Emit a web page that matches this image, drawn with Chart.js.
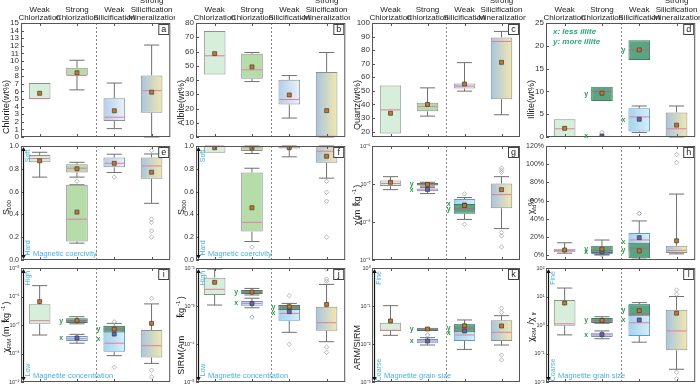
<!DOCTYPE html>
<html>
<head>
<meta charset="utf-8">
<script src="https://cdn.jsdelivr.net/npm/chart.js@4.4.0/dist/chart.umd.min.js"></script>
<style>
  body { margin: 0; background: #fff; }
  #wrap { position: relative; width: 700px; height: 387px; overflow: hidden; background: #fff; }
  canvas { position: absolute; }
</style>
</head>
<body>
<div id="wrap"></div>
<script>
const categories = [['Weak', 'Chlorization'], ['Strong', 'Chlorization'], ['Weak', 'Silicification'], ['Strong', 'Silicification', '-Mineralization']];

// box rows: [category, group, whiskerLow, q1, median, q3, whiskerHigh, mean]
// group '' = whole sample, 'x' = less illite, 'y' = more illite
const chloriteBoxes = [
  [0, '', null, 5.0, 5.05, 7.1, null, 5.75],
  [1, '', 6.2, 8.1, 8.1, 9.1, 10.1, 8.45],
  [2, '', 1.1, 2.1, 2.6, 5.1, 7.1, 3.45],
  [3, '', 0, 3.2, 6.1, 8.1, 12.1, 5.9]
];
const albiteBoxes = [
  [0, '', null, 43.8, 57.0, 74.4, null, 58.5],
  [1, '', 38.9, 40.8, 47.1, 58.4, 59.3, 49.2],
  [2, '', 13.3, 22.8, 26.3, 40.1, 43.1, 29.5],
  [3, '', 0, 0, 0.5, 45.7, 59.3, 18.5]
];
const quartzBoxes = [
  [0, '', null, 18.5, 36.0, 54.0, null, 33.5],
  [1, '', 31.4, 34.9, 38.5, 41.3, 52.2, 40.0],
  [2, '', 49.8, 51.7, 53.5, 55.4, 70.8, 55.0],
  [3, '', 32.4, 43.8, 86.4, 89.4, 93.8, 71.0]
];
const illiteBoxes = [
  [0, '', null, 0, 1.8, 3.9, null, 1.9],
  [1, 'y', null, 7.9, 10.0, 11.0, null, 9.6],
  [1, 'x', null, 0, 0.1, 0.3, null, 0.2],
  [2, 'x', 1.0, 1.2, 4.4, 6.3, 6.8, 3.9],
  [2, 'y', null, 16.9, 19.1, 21.2, null, 19.1],
  [3, '', 0, 0, 1.8, 5.4, 6.8, 2.6]
];
const illiteOutliers = [[1, 'x', 1.0]];

const s100Boxes = [
  [0, '', 0.727, 0.857, 0.89, 0.92, 0.945, 0.87],
  [1, '', 0.727, 0.767, 0.805, 0.84, 0.857, 0.80],
  [1, '', 0.148, 0.162, 0.358, 0.66, 0.66, 0.42],
  [2, '', 0.767, 0.813, 0.848, 0.90, 0.928, 0.848],
  [3, '', 0.497, 0.712, 0.825, 0.90, 0.93, 0.77]
];
const s100Outliers = [[1, '', 0.69], [2, '', 0.727], [3, '', 0.96], [3, '', 0.358], [3, '', 0.33], [3, '', 0.255], [3, '', 0.20]];

const s300Boxes = [
  [0, '', null, 0.94, 1.0, 1.0, null, 0.985],
  [1, '', 0.934, 0.957, 0.99, 0.997, 1.0, 0.982],
  [1, '', 0.162, 0.249, 0.33, 0.767, 0.805, 0.458],
  [2, '', 0.905, 0.977, 0.99, 1.0, 1.0, 0.985],
  [3, '', 0.718, 0.853, 0.954, 0.99, 1.0, 0.91]
];
const s300Outliers = [[1, '', 0.113], [3, '', 0.69], [3, '', 0.594], [3, '', 0.516], [3, '', 0.20]];

const chiLfBoxes = [
  [0, '', 7.1e-8, 8.8e-8, 1.03e-7, 1.23e-7, 1.56e-7, 1.11e-7],
  [1, 'x', 5.6e-8, 6.4e-8, 6.9e-8, 7.6e-8, 8.0e-8, 7.2e-8],
  [1, 'y', 8.8e-8, 9.1e-8, 9.9e-8, 1.07e-7, 1.11e-7, 9.7e-8],
  [2, 'x', null, 2.08e-8, 2.7e-8, 4.0e-8, 4.4e-8, 2.8e-8],
  [2, 'y', 1.17e-8, 1.64e-8, 2.2e-8, 2.97e-8, null, 2.7e-8],
  [3, '', 6.7e-9, 2.29e-8, 5.26e-8, 1.03e-7, 1.56e-7, 7.1e-8]
];
const chiLfOutliers = [[2, '', 5.5e-8], [2, '', 8.7e-9], [3, '', 2.6e-7], [3, '', 2.28e-7], [3, '', 2.02e-7], [3, '', 5.3e-9], [3, '', 4.3e-9], [3, '', 2.2e-9]];

const chiFdBoxes = [
  [0, '', 2.5, 3.6, 5.5, 7.4, 13.9, 6.0],
  [1, 'x', 0.5, 1.5, 3.5, 6.0, 7.0, 4.0],
  [1, 'y', 1.0, 2.8, 5.5, 10.5, 16.9, 7.0],
  [2, 'x', 0, 5.0, 17.0, 24.5, 37.8, 19.5],
  [2, 'y', -4, -3, 8.0, 14.0, null, 5.0],
  [3, '', 1.7, 2.8, 5.5, 10.5, 67.3, 16.0]
];
const chiFdOutliers = [[1, 'x', 0.5], [2, 'x', 46], [3, '', 110.6], [3, '', 101.8]];

const chiArmBoxes = [
  [0, '', 4.45e-8, 1.11e-7, 1.42e-7, 5.3e-7, 2.4e-6, 6.6e-7],
  [1, 'x', 2.3e-8, 2.75e-8, 3.3e-8, 4.1e-8, 4.7e-8, 3.5e-8],
  [1, 'y', 1.1e-7, 1.17e-7, 1.42e-7, 1.71e-7, 1.95e-7, 1.42e-7],
  [2, 'x', 8.4e-9, 1.16e-8, 2.3e-8, 9.5e-8, null, 4.8e-8],
  [2, 'y', null, 5.5e-8, 7.2e-8, 9.5e-8, 1.14e-7, 7.2e-8],
  [3, '', 4.5e-9, 7.3e-9, 1.88e-8, 6.7e-8, 5.5e-7, 1.14e-7]
];
const chiArmOutliers = [[2, '', 1.3e-7], [2, '', 3.3e-9], [3, '', 8.6e-7], [3, '', 2.6e-9], [3, '', 1.5e-9]];

const sirmBoxes = [
  [0, '', 1.06e-3, 1.95e-3, 2.75e-3, 5.57e-3, 9.4e-3, 4.2e-3],
  [1, 'x', 0.9e-3, 1.02e-3, 1.17e-3, 1.35e-3, 1.6e-3, 1.17e-3],
  [1, 'y', 1.95e-3, 2.07e-3, 2.33e-3, 2.63e-3, 2.9e-3, 2.33e-3],
  [2, 'x', 2.03e-4, 4.1e-4, 6.4e-4, 1.06e-3, null, 7.1e-4],
  [2, 'y', null, 7.85e-4, 9.2e-4, 1.06e-3, 1.17e-3, 9.6e-4],
  [3, '', 1.15e-4, 2.24e-4, 3.64e-4, 9.6e-4, 3.7e-3, 1.1e-3]
];
const sirmOutliers = [[1, 'x', 5.1e-4], [2, '', 1.87e-3], [2, '', 9.8e-5], [3, '', 9.4e-3], [3, '', 5.1e-3], [3, '', 4.5e-3], [3, '', 8.3e-5], [3, '', 6.0e-5]];

const armSirmBoxes = [
  [0, '', 0.0169, 0.022, 0.0229, 0.0364, 0.102, 0.0403],
  [1, 'x', 0.0094, 0.0104, 0.012, 0.0136, 0.0147, 0.012],
  [1, 'y', null, 0.022, 0.0248, 0.0269, null, 0.0248],
  [2, 'x', 0.0072, 0.012, 0.0173, 0.033, null, 0.022],
  [2, 'y', null, 0.0203, 0.026, 0.033, 0.0429, 0.0303],
  [3, '', 0.0094, 0.012, 0.0203, 0.042, 0.0557, 0.0298]
];
const armSirmOutliers = [[1, 'x', 0.0173], [3, '', 0.0869], [3, '', 0.068], [3, '', 0.0051], [3, '', 0.0038]];

const chiRatioBoxes = [
  [0, '', 0.45, 0.95, 1.1, 7.5, 19.8, 5.9],
  [1, 'x', 0.33, 0.38, 0.45, 0.54, 0.62, 0.46],
  [1, 'y', 1.15, 1.18, 1.45, 1.75, 1.95, 1.45],
  [2, 'x', 0.25, 0.41, 1.2, 5.3, null, 1.5],
  [2, 'y', null, 2.1, 2.4, 5.3, 6.1, 3.2],
  [3, '', 0.028, 0.13, 0.62, 3.4, 10, 2.6]
];
const chiRatioOutliers = [[3, '', 17], [3, '', 12], [3, '', 0.022], [3, '', 0.013]];

// tick values
const chloriteTicks = [0, 1, 2, 3, 4, 5, 6, 7, 8, 9, 10, 11, 12, 13, 14, 15];
const albiteTicks = [0, 10, 20, 30, 40, 50, 60, 70, 80];
const quartzTicks = [20, 30, 40, 50, 60, 70, 80, 90, 100];
const illiteTicks = [0, 5, 10, 15, 20, 25];
const sTicks = [0, 0.2, 0.4, 0.6, 0.8, 1.0];
const chiLfTicks = [1e-9, 1e-8, 1e-7, 1e-6];
const chiFdTicks = [0, 20, 40, 60, 80, 100, 120];
const chiArmTicks = [1e-9, 1e-8, 1e-7, 1e-6, 1e-5];
const sirmTicks = [1e-5, 1e-4, 1e-3, 1e-2];
const armSirmTicks = [1e-3, 1e-2, 1e-1, 1e0];
const chiRatioTicks = [1e-2, 1e-1, 1e0, 1e1, 1e2];

const FONT = '"Liberation Sans", Arial, sans-serif';
const PLOT_L = [21, 196, 372, 546];
const PLOT_R = [173, 347, 520, 697];
const PLOT_T = [23, 146, 268];
const PLOT_B = [137, 260, 382];
const CANVAS_T = [0, 138, 260];
const CANVAS_H = [145, 128, 127];
const Y_W = 21;
const BAR_PCT = 0.58;

const FILLS = {
  c0: ['#d7eedb'], c1: ['#b6dcaa'], c2: ['#b2cfea', '#ebf2f9'], c3: ['#a5c5e1', '#f5e7ad'],
  x: ['#a3d3ee', '#d9eef8'], y: ['#5aa683']
};
const EDGES = { '': '#8a928e', x: '#5d9ccc', y: '#467a62' };
const ORDER = { '': 40, x: 30, y: 20 };

const SIDE = {
  coercivity: ['Soft', 'Hard', 'Magnetic coercivity'],
  concentration: ['High', 'Low', 'Magnetite concentration'],
  grain: ['Fine', 'Coarse', 'Magnetite grain size']
};

const panels = [
  { id: 'a', col: 0, row: 0, title: 'Chlorite(wt%)', boxes: chloriteBoxes, outliers: [], ticks: chloriteTicks, min: 0, max: 15 },
  { id: 'b', col: 1, row: 0, title: 'Albite(wt%)', boxes: albiteBoxes, outliers: [], ticks: albiteTicks, min: 0, max: 80 },
  { id: 'c', col: 2, row: 0, title: 'Quartz(wt%)', boxes: quartzBoxes, outliers: [], ticks: quartzTicks, min: 16, max: 100 },
  { id: 'd', col: 3, row: 0, title: 'Illite(wt%)', boxes: illiteBoxes, outliers: illiteOutliers, ticks: illiteTicks, min: 0, max: 25, legend: true },
  { id: 'e', col: 0, row: 1, title: 'S_{-100}', boxes: s100Boxes, outliers: s100Outliers, ticks: sTicks, min: 0, max: 1, fmt: v => v.toFixed(1), side: SIDE.coercivity },
  { id: 'f', col: 1, row: 1, title: 'S_{-300}', boxes: s300Boxes, outliers: s300Outliers, ticks: sTicks, min: 0, max: 1, fmt: v => v.toFixed(1), side: SIDE.coercivity },
  { id: 'g', col: 2, row: 1, title: 'χ_{lf}(m^{3}kg^{-1})', boxes: chiLfBoxes, outliers: chiLfOutliers, ticks: chiLfTicks, min: 1e-9, max: 1e-6, log: true },
  { id: 'h', col: 3, row: 1, title: 'χ_{fd}%', boxes: chiFdBoxes, outliers: chiFdOutliers, ticks: chiFdTicks, min: -5, max: 120, fmt: v => v + '%' },
  { id: 'i', col: 0, row: 2, title: 'χ_{ARM}(m^{3}kg^{-1})', boxes: chiArmBoxes, outliers: chiArmOutliers, ticks: chiArmTicks, min: 1e-9, max: 1e-5, log: true, side: SIDE.concentration },
  { id: 'j', col: 1, row: 2, title: 'SIRM(Am^{2}kg^{-1})', boxes: sirmBoxes, outliers: sirmOutliers, ticks: sirmTicks, min: 1e-5, max: 1e-2, log: true, side: SIDE.concentration },
  { id: 'k', col: 2, row: 2, title: 'ARM/SIRM', boxes: armSirmBoxes, outliers: armSirmOutliers, ticks: armSirmTicks, min: 1e-3, max: 1, log: true, side: SIDE.grain },
  { id: 'l', col: 3, row: 2, title: 'χ_{ARM}/χ_{lf}', boxes: chiRatioBoxes, outliers: chiRatioOutliers, ticks: chiRatioTicks, min: 1e-2, max: 1e2, log: true, side: SIDE.grain }
];

function sup(n) {
  const m = { '-': '⁻', '0': '⁰', '1': '¹', '2': '²', '3': '³', '4': '⁴', '5': '⁵', '6': '⁶', '7': '⁷', '8': '⁸', '9': '⁹' };
  return String(n).split('').map(c => m[c]).join('');
}

// rotated axis title with sub/superscripts, markup: _{..} and ^{..}
function drawRich(ctx, markup, x, y, size, color) {
  const parts = [];
  const re = /([_^])\{([^}]*)\}|([^_^]+)/g;
  let m;
  while ((m = re.exec(markup))) {
    parts.push(m[3] !== undefined ? { t: m[3], k: 0 } : { t: m[2], k: m[1] === '_' ? 1 : 2 });
  }
  ctx.save();
  ctx.translate(x, y);
  ctx.rotate(-Math.PI / 2);
  ctx.fillStyle = color;
  ctx.textBaseline = 'alphabetic';
  const fontFor = k => (k ? size * 0.68 : size) + 'px ' + FONT;
  let total = 0;
  parts.forEach(p => { ctx.font = fontFor(p.k); p.w = ctx.measureText(p.t).width; total += p.w; });
  let cx = -total / 2;
  parts.forEach(p => {
    ctx.font = fontFor(p.k);
    const dy = p.k === 1 ? size * 0.22 : p.k === 2 ? -size * 0.36 : 0;
    ctx.fillText(p.t, cx, size * 0.35 + dy);
    cx += p.w;
  });
  ctx.restore();
}

function boxFill(chart, r) {
  const stops = FILLS[r[1] || 'c' + r[0]];
  if (stops.length === 1 || !chart.chartArea) return stops[0];
  const xs = chart.scales.x;
  const cx = xs.getPixelForValue(r[0]);
  const half = xs.width / categories.length * BAR_PCT / 2;
  const g = chart.ctx.createLinearGradient(cx - half, 0, cx + half, 0);
  g.addColorStop(0, stops[0]);
  g.addColorStop(1, stops[1]);
  return g;
}

const boxPlugin = {
  id: 'boxplot',
  beforeDatasetDraw(chart, args) {
    const r = chart.data.datasets[args.index].box;
    if (!r) return;
    const el = args.meta.data[r[0]];
    const y = chart.scales.y, ctx = chart.ctx;
    const cap = el.width * 0.35;
    ctx.save();
    ctx.strokeStyle = '#707070';
    ctx.lineWidth = 1;
    [[r[2], r[3]], [r[6], r[5]]].forEach(([w, edge]) => {
      if (w === null) return;
      const pw = y.getPixelForValue(w), pe = y.getPixelForValue(edge);
      ctx.beginPath();
      ctx.moveTo(el.x, pe); ctx.lineTo(el.x, pw);
      ctx.moveTo(el.x - cap, pw); ctx.lineTo(el.x + cap, pw);
      ctx.stroke();
    });
    ctx.restore();
  },
  afterDatasetDraw(chart, args) {
    const r = chart.data.datasets[args.index].box;
    if (!r) return;
    const el = args.meta.data[r[0]];
    const py = chart.scales.y.getPixelForValue(r[4]);
    const ctx = chart.ctx;
    ctx.save();
    ctx.strokeStyle = r[1] === 'y' ? '#c0607e' : '#e47da2';
    ctx.lineWidth = 1;
    ctx.beginPath();
    ctx.moveTo(el.x - el.width / 2 + 1, py);
    ctx.lineTo(el.x + el.width / 2 - 1, py);
    ctx.stroke();
    ctx.restore();
  },
  afterDraw(chart) {
    const p = chart.config.options.panel;
    const ctx = chart.ctx, a = chart.chartArea, xs = chart.scales.x, ys = chart.scales.y;
    ctx.save();
    // separator between chloritization and silicification groups
    const sx = (xs.getPixelForValue(1) + xs.getPixelForValue(2)) / 2;
    ctx.strokeStyle = '#8a8a8a';
    ctx.setLineDash([2, 2]);
    ctx.beginPath(); ctx.moveTo(Math.round(sx) + 0.5, a.top); ctx.lineTo(Math.round(sx) + 0.5, a.bottom); ctx.stroke();
    ctx.setLineDash([]);
    // frame
    ctx.strokeStyle = '#555';
    ctx.lineWidth = 1;
    ctx.strokeRect(a.left + 0.5, a.top + 0.5, a.right - a.left - 1, a.bottom - a.top - 1);
    // inward ticks
    ctx.beginPath();
    p.ticks.forEach(v => {
      const py = Math.round(ys.getPixelForValue(v)) + 0.5;
      ctx.moveTo(a.left, py); ctx.lineTo(a.left + 3, py);
    });
    categories.forEach((c, i) => {
      const px = Math.round(xs.getPixelForValue(i)) + 0.5;
      ctx.moveTo(px, a.top); ctx.lineTo(px, a.top + 3);
      ctx.moveTo(px, a.bottom); ctx.lineTo(px, a.bottom - 3);
    });
    ctx.stroke();
    // panel letter
    ctx.fillStyle = '#fff';
    ctx.fillRect(a.right - 12, a.top + 1, 11, 11);
    ctx.strokeStyle = '#444';
    ctx.strokeRect(a.right - 11.5, a.top + 1.5, 10, 10);
    ctx.fillStyle = '#222';
    ctx.font = '9px ' + FONT;
    ctx.textAlign = 'center';
    ctx.textBaseline = 'middle';
    ctx.fillText(p.id, a.right - 6.5, a.top + 6.5);
    // y title
    drawRich(ctx, p.title, a.left - Y_W + (p.log ? 5.5 : 6), (a.top + a.bottom) / 2, 9, '#222');
    // x / y sub-group markers
    ctx.font = 'bold 7px ' + FONT;
    ctx.fillStyle = '#2e9e45';
    chart.data.datasets.forEach((ds, i) => {
      const r = ds.box;
      if (!r || !r[1]) return;
      const el = chart.getDatasetMeta(i).data[r[0]];
      const py = (ys.getPixelForValue(r[3]) + ys.getPixelForValue(r[5])) / 2;
      ctx.fillText(r[1], el.x - el.width / 2 - 5, py);
    });
    // illite legend
    if (p.legend) {
      ctx.font = 'italic bold 8px ' + FONT;
      ctx.fillStyle = '#2aa876';
      ctx.textAlign = 'left';
      ctx.fillText('x: less illite', a.left + 7, a.top + 9);
      ctx.fillText('y: more illite', a.left + 7, a.top + 18.5);
    }
    // magnetic property annotations
    if (p.side) {
      const ax = a.left + 2.5;
      ctx.strokeStyle = '#111';
      ctx.fillStyle = '#111';
      ctx.lineWidth = 1.2;
      ctx.beginPath(); ctx.moveTo(ax, a.top + 3); ctx.lineTo(ax, a.bottom - 3); ctx.stroke();
      ctx.beginPath();
      ctx.moveTo(ax, a.top + 1); ctx.lineTo(ax - 2.2, a.top + 5); ctx.lineTo(ax + 2.2, a.top + 5); ctx.closePath();
      ctx.moveTo(ax, a.bottom - 1); ctx.lineTo(ax - 2.2, a.bottom - 5); ctx.lineTo(ax + 2.2, a.bottom - 5); ctx.closePath();
      ctx.fill();
      ctx.fillStyle = '#4bb0de';
      ctx.font = '7px ' + FONT;
      ctx.textAlign = 'center';
      [[p.side[0], a.top + 10], [p.side[1], a.bottom - 12]].forEach(([t, ty]) => {
        ctx.save(); ctx.translate(a.left + 7.5, ty); ctx.rotate(-Math.PI / 2);
        ctx.fillText(t, 0, 0); ctx.restore();
      });
      ctx.textAlign = 'left';
      ctx.font = '7.5px ' + FONT;
      ctx.fillText(p.side[2], a.left + 12, a.bottom - 6);
    }
    ctx.restore();
  }
};

function makeChart(p) {
  const wrap = document.getElementById('wrap');
  const cv = document.createElement('canvas');
  const extra = p.col > 0 ? 4 : 0;
  const left = PLOT_L[p.col] - Y_W - extra, top = CANVAS_T[p.row];
  const width = 175 + extra;
  cv.width = width; cv.height = CANVAS_H[p.row];
  cv.style.left = left + 'px'; cv.style.top = top + 'px';
  wrap.appendChild(cv);

  const datasets = p.boxes.map(r => ({
    type: 'bar',
    box: r,
    data: categories.map((c, i) => (i === r[0] ? [r[3], r[5]] : null)),
    backgroundColor: ctx => boxFill(ctx.chart, r),
    borderColor: EDGES[r[1]],
    borderWidth: 1,
    borderSkipped: false,
    grouped: false,
    barPercentage: BAR_PCT,
    categoryPercentage: 1,
    order: ORDER[r[1]]
  }));
  // outliers and means sit on the category axis (x given as the category label)
  datasets.push({
    type: 'scatter', order: 1,
    data: p.outliers.map(o => ({ x: categories[o[0]], y: o[2] })),
    pointStyle: 'rectRot', pointRadius: 2.2,
    borderColor: p.outliers.map(o => (o[1] === 'x' ? '#7d8fd6' : '#a6a6a6')),
    backgroundColor: 'rgba(255,255,255,0)', borderWidth: 0.8
  });
  datasets.push({
    type: 'scatter', order: 0,
    data: p.boxes.map(r => ({ x: categories[r[0]], y: r[7] })),
    pointStyle: 'rect', pointRadius: 2.8,
    backgroundColor: p.boxes.map(r => (r[1] === 'x' ? '#5468c8' : '#c07a36')),
    borderColor: '#4a3320', borderWidth: 0.7
  });

  const isTop = p.row === 0;
  const padTop = PLOT_T[p.row] - top - (isTop ? 23 : 0);
  const padBottom = top + CANVAS_H[p.row] - PLOT_B[p.row];
  const padRight = width - (PLOT_R[p.col] - left);

  new Chart(cv.getContext('2d'), {
    type: 'bar',
    data: { labels: categories, datasets: datasets },
    options: {
      panel: p,
      responsive: false,
      animation: false,
      devicePixelRatio: 1,
      layout: { padding: { left: extra, right: padRight, top: padTop, bottom: padBottom } },
      plugins: { legend: { display: false }, tooltip: { enabled: false } },
      scales: {
        x: {
          position: 'top',
          display: isTop,
          offset: true,
          grid: { display: false, drawTicks: false },
          border: { display: false },
          ticks: { font: { family: FONT, size: 8, lineHeight: 1.05 }, color: '#222', maxRotation: 0, minRotation: 0, autoSkip: false, padding: 1 },
          afterFit: s => { if (isTop) s.height = 23; s.paddingLeft = 0; s.paddingRight = 0; }
        },
        y: {
          type: p.log ? 'logarithmic' : 'linear',
          min: p.min,
          max: p.max,
          grid: { display: false, drawTicks: false },
          border: { display: false },
          ticks: {
            font: { family: FONT, size: p.log ? 5.5 : (p.fmt ? 7 : 8) },
            color: '#333',
            padding: p.log ? 1.5 : 2,
            autoSkip: false,
            callback: v => (p.log ? '10' + sup(Math.round(Math.log10(v))) : (p.fmt ? p.fmt(v) : String(v)))
          },
          afterBuildTicks: s => { s.ticks = p.ticks.map(v => ({ value: v })); },
          afterFit: s => { s.width = Y_W; s.paddingTop = 0; s.paddingBottom = 0; }
        }
      }
    },
    plugins: [boxPlugin]
  });
}

panels.forEach(makeChart);
</script>
</body>
</html>
